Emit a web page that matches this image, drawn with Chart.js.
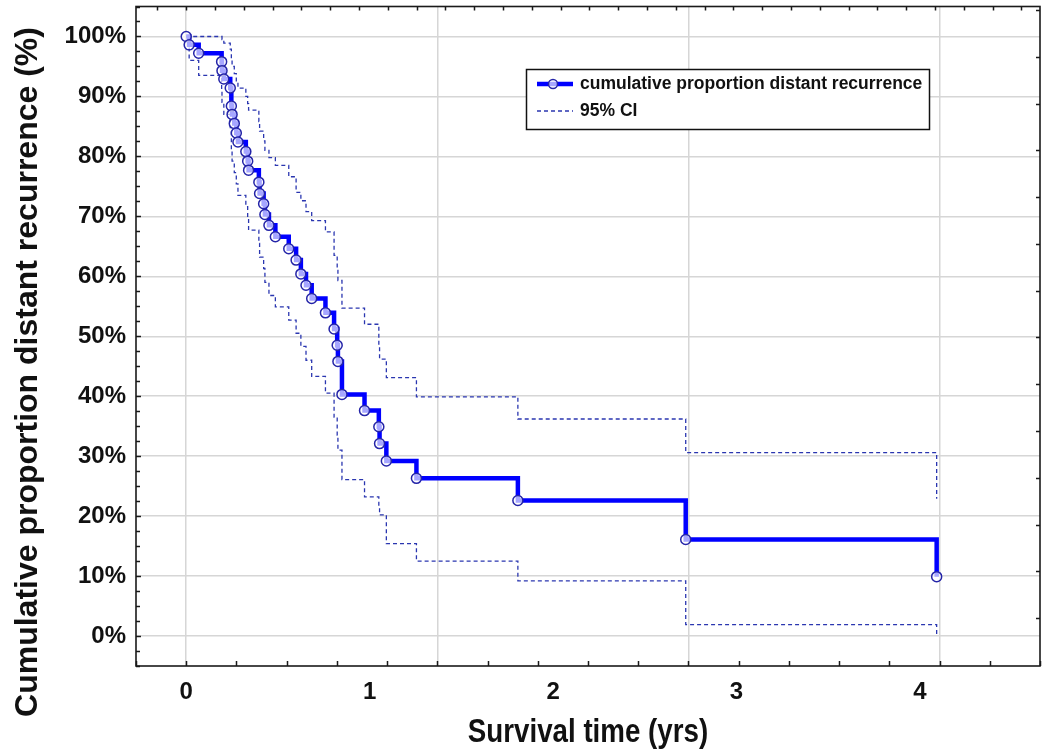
<!DOCTYPE html>
<html>
<head>
<meta charset="utf-8">
<script src="https://cdn.jsdelivr.net/npm/chart.js@4/dist/chart.umd.min.js"></script>
<style>
  html, body { margin: 0; padding: 0; background: #fff; }
  #wrap { width: 1048px; height: 751px; }
</style>
</head>
<body>
<div id="wrap"><canvas id="km"></canvas></div>
<script>
// Event times (years)
const times = [0, 0.016, 0.068, 0.193, 0.195, 0.205, 0.240, 0.246, 0.250, 0.262,
  0.273, 0.282, 0.325, 0.335, 0.340, 0.396, 0.400, 0.422, 0.429, 0.451,
  0.486, 0.559, 0.599, 0.625, 0.653, 0.684, 0.759, 0.806, 0.823, 0.827,
  0.849, 0.972, 1.050, 1.054, 1.091, 1.255, 1.808, 2.723, 4.091];

// Cumulative proportion (%) after each event
const survival = [100, 98.6, 97.2, 95.8, 94.3, 92.9, 91.4, 88.4, 87.0, 85.5,
  83.9, 82.4, 80.8, 79.2, 77.7, 75.7, 73.8, 72.1, 70.3, 68.5,
  66.6, 64.6, 62.7, 60.4, 58.5, 56.3, 53.9, 51.2, 48.5, 45.8,
  40.3, 37.6, 34.9, 32.1, 29.2, 26.3, 22.6, 16.1, 9.9];

// 95% CI bounds (%)
const upperCI = [100, 100, 100, 100, 99.5, 98.9, 97.9, 96.0, 95.0, 93.8,
  92.5, 91.4, 90.0, 88.8, 87.7, 85.8, 84.2, 82.6, 81.0, 79.8,
  78.5, 76.6, 74.0, 72.6, 70.8, 69.3, 67.4, 63.5, 61.0, 59.3,
  54.7, 52.0, 48.5, 46.2, 43.1, 39.9, 36.2, 30.6, 22.9];
const lowerCI = [100, 96.0, 93.5, 91.2, 89.0, 87.0, 84.8, 81.0, 79.2, 77.3,
  75.4, 73.5, 71.6, 69.7, 67.7, 65.5, 63.2, 61.3, 59.0, 56.8,
  54.9, 52.7, 50.5, 48.3, 46.0, 43.3, 40.5, 36.5, 33.5, 31.0,
  26.1, 23.2, 21.5, 20.2, 15.4, 12.5, 9.2, 1.9, 0];

// Axis labels / grid
const xTickLabels = [0, 1, 2, 3, 4];
const yTickValues = [0, 10, 20, 30, 40, 50, 60, 70, 80, 90, 100];
const gridYears = [0, 1.369, 2.738, 4.107]; // vertical grid every 500 days

const BLUE = '#0000ff';
const CI_BLUE = '#2a36b0';
const SANS = "'Liberation Sans', Arial, sans-serif";

function pts(ys) {
  return times.map((t, i) => ({ x: t, y: ys[i] }));
}

// frame, inward ticks, axis titles and legend box
const decorPlugin = {
  id: 'decor',
  afterDraw(chart) {
    const { ctx, chartArea: a, scales } = chart;
    const xs = scales.x, ys = scales.y;
    ctx.save();
    ctx.strokeStyle = '#1a1a1a';
    ctx.lineWidth = 1.5;
    ctx.beginPath();
    // bottom ticks every 100 days
    for (let d = -100; d <= 1700; d += 100) {
      const px = Math.round(xs.getPixelForValue(d / 365.25)) + 0.5;
      ctx.moveTo(px, a.bottom); ctx.lineTo(px, a.bottom - 5);
    }
    // top ticks
    for (let t = -0.157; t < 4.66; t += 0.157) {
      const px = Math.round(xs.getPixelForValue(t)) + 0.5;
      ctx.moveTo(px, a.top); ctx.lineTo(px, a.top + 4);
    }
    // left ticks every 2.5%
    for (let v = -5; v <= 105; v += 2.5) {
      const py = Math.round(ys.getPixelForValue(v)) + 0.5;
      ctx.moveTo(a.left, py); ctx.lineTo(a.left + (v % 10 === 0 ? 5 : 4), py);
    }
    // right ticks
    for (let v = 3.0; v <= 105; v += 7.8) {
      const py = Math.round(ys.getPixelForValue(v)) + 0.5;
      ctx.moveTo(a.right, py); ctx.lineTo(a.right - 4, py);
    }
    ctx.stroke();
    ctx.lineWidth = 1.6;
    ctx.strokeRect(a.left, a.top, a.right - a.left, a.bottom - a.top);

    // axis titles
    ctx.fillStyle = '#111';
    ctx.textAlign = 'center';
    ctx.textBaseline = 'middle';
    ctx.save();
    ctx.font = 'bold 32px ' + SANS;
    ctx.translate(28, 372);
    ctx.rotate(-Math.PI / 2);
    ctx.fillText('Cumulative proportion distant recurrence (%)', 0, 0);
    ctx.restore();
    ctx.save();
    ctx.font = 'bold 33px ' + SANS;
    ctx.translate((a.left + a.right) / 2, 733);
    ctx.scale(0.84, 1);
    ctx.fillText('Survival time (yrs)', 0, 0);
    ctx.restore();
    ctx.restore();

    // legend
    ctx.save();
    const lx = 526.5, ly = 69.5, lw = 403, lh = 60;
    ctx.fillStyle = '#fff';
    ctx.fillRect(lx, ly, lw, lh);
    ctx.strokeStyle = '#111';
    ctx.lineWidth = 1.5;
    ctx.strokeRect(lx, ly, lw, lh);
    ctx.strokeStyle = BLUE;
    ctx.lineWidth = 4.5;
    ctx.beginPath();
    ctx.moveTo(537, 84); ctx.lineTo(573, 84);
    ctx.stroke();
    ctx.beginPath();
    ctx.arc(553, 84, 4.5, 0, Math.PI * 2);
    ctx.fillStyle = 'rgba(255,255,255,0.65)';
    ctx.fill();
    ctx.strokeStyle = '#2424a8';
    ctx.lineWidth = 1.5;
    ctx.stroke();
    ctx.setLineDash([4, 3]);
    ctx.strokeStyle = CI_BLUE;
    ctx.lineWidth = 1.3;
    ctx.beginPath();
    ctx.moveTo(537, 111); ctx.lineTo(573, 111);
    ctx.stroke();
    ctx.setLineDash([]);
    ctx.fillStyle = '#111';
    ctx.font = 'bold 17.5px ' + SANS;
    ctx.textAlign = 'left';
    ctx.textBaseline = 'middle';
    ctx.fillText('cumulative proportion distant recurrence', 580, 84);
    ctx.fillText('95% CI', 580, 111);
    ctx.restore();
  }
};

const ctx = document.getElementById('km').getContext('2d');
new Chart(ctx, {
  type: 'line',
  data: {
    datasets: [{
      label: 'cumulative proportion distant recurrence',
      data: pts(survival),
      stepped: true,
      borderColor: BLUE,
      borderWidth: 4.5,
      pointRadius: 5,
      pointBorderWidth: 1.5,
      pointBorderColor: '#2424a8',
      pointBackgroundColor: 'rgba(255,255,255,0.65)',
      fill: false
    }, {
      label: '95% CI',
      data: pts(upperCI),
      stepped: true,
      borderColor: CI_BLUE,
      borderWidth: 1.3,
      borderDash: [4, 3],
      pointRadius: 0,
      fill: false
    }, {
      label: '95% CI lower',
      data: pts(lowerCI),
      stepped: true,
      borderColor: CI_BLUE,
      borderWidth: 1.3,
      borderDash: [4, 3],
      pointRadius: 0,
      fill: false
    }]
  },
  options: {
    responsive: true,
    maintainAspectRatio: false,
    animation: false,
    devicePixelRatio: 1,
    layout: { padding: { top: 6, right: 8, left: 0, bottom: 0 } },
    plugins: {
      legend: { display: false },
      tooltip: { enabled: false }
    },
    scales: {
      x: {
        type: 'linear',
        min: -100 / 365.25,
        max: 1700 / 365.25,
        afterBuildTicks: (scale) => {
          const vals = xTickLabels.concat(gridYears.filter(v => !xTickLabels.includes(v)));
          scale.ticks = vals.sort((p, q) => p - q).map(v => ({ value: v }));
        },
        afterFit: (scale) => {
          scale.height = 85;
          scale.paddingLeft = 0;
          scale.paddingRight = 0;
        },
        ticks: {
          autoSkip: false,
          maxRotation: 0,
          padding: 12,
          color: '#111',
          font: { family: SANS, size: 24, weight: 'bold' },
          callback: (v) => xTickLabels.includes(v) ? String(v) : ''
        },
        grid: {
          drawTicks: false,
          lineWidth: 1.5,
          color: (c) => gridYears.includes(c.tick && c.tick.value) ? '#d6d6d6' : 'rgba(0,0,0,0)'
        },
        border: { display: false }
      },
      y: {
        min: -5,
        max: 105,
        afterBuildTicks: (scale) => {
          scale.ticks = yTickValues.map(v => ({ value: v }));
        },
        afterFit: (scale) => {
          scale.width = 136;
          scale.paddingTop = 0;
          scale.paddingBottom = 0;
        },
        ticks: {
          padding: 10,
          color: '#111',
          font: { family: SANS, size: 24, weight: 'bold' },
          callback: (v) => v + '%'
        },
        grid: { drawTicks: false, lineWidth: 1.5, color: '#d6d6d6' },
        border: { display: false }
      }
    }
  },
  plugins: [decorPlugin]
});
</script>
</body>
</html>
